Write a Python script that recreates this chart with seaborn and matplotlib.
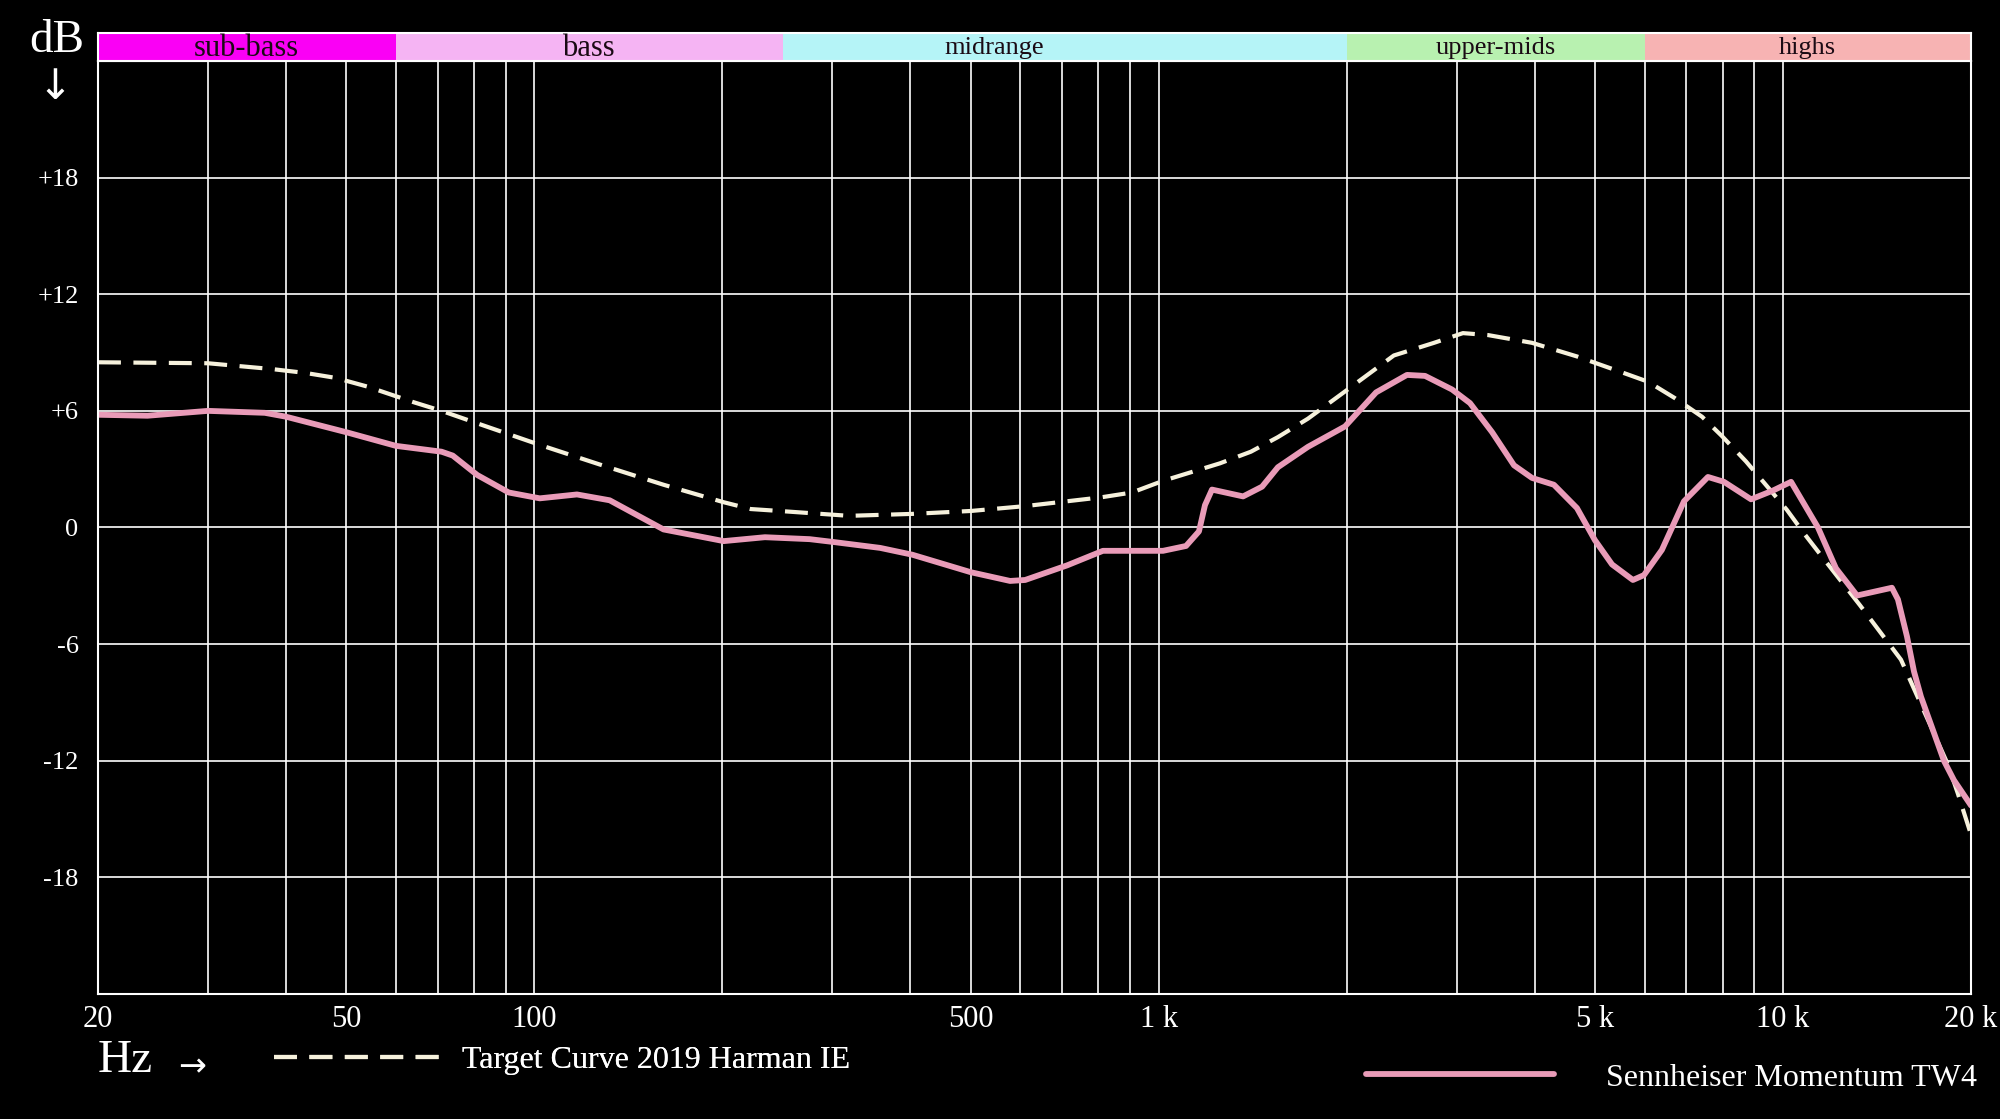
import matplotlib
matplotlib.use("Agg")
import matplotlib.pyplot as plt
import matplotlib.ticker as mticker
import seaborn as sns

# measured response, Sennheiser Momentum TW4
tw4_hz = [20, 24, 30, 37, 40, 50, 60, 71, 74, 81, 91, 102, 117, 132, 161, 201, 234, 276,
          302, 358, 403, 500, 578, 611, 713, 814, 906, 1016, 1106, 1160, 1186, 1217, 1365,
          1464, 1552, 1734, 1988, 2229, 2498, 2670, 2950, 3152, 3420, 3707, 3962, 4295,
          4676, 4996, 5322, 5748, 5986, 6397, 6940, 7580, 8041, 8887, 9634, 10300, 11374,
          12154, 13136, 14940, 15276, 15792, 16206, 16628, 18100, 18780, 20000]
tw4_db = [5.8, 5.75, 6.0, 5.9, 5.7, 4.9, 4.2, 3.9, 3.7, 2.7, 1.8, 1.5, 1.7, 1.4, -0.1, -0.7,
          -0.5, -0.6, -0.75, -1.05, -1.4, -2.3, -2.75, -2.7, -1.95, -1.2, -1.2, -1.2, -0.95,
          -0.2, 1.15, 1.95, 1.6, 2.1, 3.1, 4.15, 5.2, 6.95, 7.85, 7.8, 7.1, 6.4, 4.9, 3.2,
          2.55, 2.2, 1.0, -0.65, -1.9, -2.7, -2.45, -1.15, 1.35, 2.6, 2.35, 1.45, 1.9, 2.35,
          0.0, -2.1, -3.5, -3.1, -3.7, -5.6, -7.4, -8.7, -12.0, -13.0, -14.3]

# target curve, Harman IE 2019
target_hz = [20, 30, 38, 43, 48, 54, 64, 71, 82, 102, 127, 161, 201, 222, 247, 319, 403, 500,
             611, 808, 906, 1016, 1253, 1405, 1552, 1734, 1988, 2380, 2760, 3071, 3368, 3962,
             4676, 5500, 6077, 6714, 7416, 7984, 8722, 9496, 10146, 10802, 11674, 13280,
             15448, 18370, 19060, 20000]
target_db = [8.5, 8.45, 8.15, 7.95, 7.7, 7.25, 6.45, 6.0, 5.3, 4.25, 3.25, 2.2, 1.3, 0.95,
             0.85, 0.6, 0.7, 0.85, 1.1, 1.55, 1.8, 2.4, 3.3, 3.9, 4.65, 5.6, 7.0, 8.85, 9.5,
             10.0, 9.9, 9.5, 8.8, 8.0, 7.5, 6.65, 5.7, 4.7, 3.4, 2.0, 0.9, -0.3, -1.7, -4.0,
             -6.8, -12.2, -13.7, -15.8]

band_names = ["sub-bass", "bass", "midrange", "upper-mids", "highs"]
band_edges = [20, 60, 250, 2000, 6000, 20000]
band_label_hz = [34.6, 122, 546, 3464, 10954]
band_colors = ["#fa00f5", "#f5b4f3", "#b5f4f7", "#b8f1b0", "#f7b3b3"]
band_sizes = [22, 22, 19, 19, 19]

x_ticks = [20, 50, 100, 500, 1000, 5000, 10000, 20000]
x_labels = ["20", "50", "100", "500", "1 k", "5 k", "10 k", "20 k"]
y_ticks = [-18, -12, -6, 0, 6, 12, 18]
y_labels = ["-18", "-12", "-6", "0", "+6", "+12", "+18"]

sns.set_theme(style="dark", rc={"figure.facecolor": "black", "axes.facecolor": "black",
                                "text.color": "white", "xtick.color": "white",
                                "ytick.color": "white"})
plt.rcParams["font.family"] = ["Liberation Serif", "DejaVu Serif"]

fig = plt.figure(figsize=(20, 11.19), dpi=100)
ax = fig.add_axes([0.049, 0.1117, 0.9365, 0.8338])
band = fig.add_axes([0.049, 0.9455, 0.9365, 0.025], sharex=ax)

sns.lineplot(x=target_hz, y=target_db, ax=ax, color="#f6f1dc", lw=3,
             linestyle=(0, (5.5, 3)), label="Target Curve 2019 Harman IE")
sns.lineplot(x=tw4_hz, y=tw4_db, ax=ax, color="#e99bb8", lw=4.2,
             label="Sennheiser Momentum TW4")

ax.set_xscale("log")
ax.set_xlim(20, 20000)
ax.set_ylim(-24, 24)
ax.xaxis.set_major_locator(mticker.FixedLocator(x_ticks))
ax.xaxis.set_minor_locator(mticker.LogLocator(base=10, subs=range(1, 10), numticks=50))
ax.xaxis.set_minor_formatter(mticker.NullFormatter())
ax.set_xticks(x_ticks)
ax.set_xticklabels(x_labels, fontsize=22)
ax.set_yticks(y_ticks)
ax.set_yticklabels(y_labels, fontsize=19)
ax.tick_params(axis="x", which="both", length=0, pad=8)
ax.tick_params(axis="y", length=0, pad=14)
ax.grid(True, which="both", color="white", lw=1.2)
for s in ax.spines.values():
    s.set_color("white")
    s.set_linewidth(1.5)
ax.set_xlabel("")
ax.set_ylabel("")
ax.get_legend().remove()

# frequency bands strip
for name, lo, hi, c, xl, fs in zip(band_names, band_edges[:-1], band_edges[1:],
                                   band_colors, band_label_hz, band_sizes):
    band.axvspan(lo, hi, color=c, lw=0)
    band.text(xl, 0.45, name, ha="center", va="center", fontsize=fs, color="#1a0a14")
band.set_ylim(0, 1)
band.set_facecolor("white")
band.tick_params(left=False, bottom=False, labelleft=False, labelbottom=False)
band.grid(False)
for s in band.spines.values():
    s.set_color("white")
    s.set_linewidth(1.5)

fig.text(0.0145, 0.964, "dB", fontsize=34, ha="left", va="center")
fig.text(0.0275, 0.922, "↓", fontsize=30, ha="center", va="center", family="DejaVu Sans")
fig.text(0.049, 0.052, "Hz", fontsize=34, ha="left", va="center")
fig.text(0.096, 0.047, "→", fontsize=24, ha="center", va="center", family="DejaVu Sans")

h = ax.get_lines()
leg1 = fig.legend(handles=[h[0]], labels=["Target Curve 2019 Harman IE"], loc="center left",
                  bbox_to_anchor=(0.137, 0.0527), frameon=False, fontsize=23,
                  handlelength=5.2, handletextpad=0.7, borderpad=0, borderaxespad=0,
                  labelcolor="white")
fig.add_artist(leg1)
fig.legend(handles=[h[1]], labels=["Sennheiser Momentum TW4"], loc="center left",
           bbox_to_anchor=(0.683, 0.0367), frameon=False, fontsize=23,
           handlelength=5.9, handletextpad=1.6, borderpad=0, borderaxespad=0,
           labelcolor="white")

plt.savefig("out.png", dpi=100, facecolor="black")
